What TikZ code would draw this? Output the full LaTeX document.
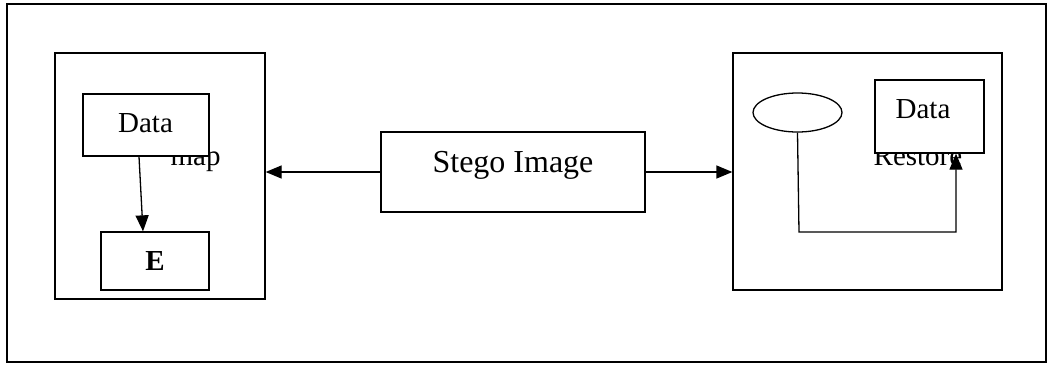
\documentclass[tikz,border=0pt]{standalone}
\usepackage{fontspec}
\setmainfont{Liberation Serif}
\usetikzlibrary{arrows.meta,shapes.geometric}
\begin{document}
\begin{tikzpicture}[x=1pt,y=-1pt,
  line width=1.3pt,
  box/.style={draw=black,fill=white,rectangle,inner sep=0pt},
  lbl/.style={inner sep=0pt,anchor=base,font=\fontsize{29}{34}\selectfont},
  arr/.style={-{Triangle[length=16pt,width=13pt]}}]
\useasboundingbox (0,0) rectangle (1049,365);
% outer frame
\node[box,minimum width=1039pt,minimum height=358pt] (frame) at (526.5,183) {};
% left block
\node[box,minimum width=210pt,minimum height=246pt] (left) at (160,176) {};
\node[lbl,anchor=base west] (map) at (170,165) {map};
\node[box,minimum width=126pt,minimum height=62pt] (dataL) at (146,125) {};
\node[lbl] (dataLt) at (145.5,132) {Data};
\node[box,minimum width=108pt,minimum height=58pt] (E) at (155,261) {};
\node[lbl,font=\fontsize{29}{34}\selectfont\bfseries] (Et) at (155,270) {E};
\draw[arr] ([xshift=-7pt]dataL.south) -- ([xshift=-12pt]E.north);
% centre block
\node[box,minimum width=264pt,minimum height=80pt] (stego) at (513,172) {};
\node[lbl,font=\fontsize{32}{38}\selectfont] (stegot) at (513,172) {Stego Image};
% right block
\node[box,minimum width=269pt,minimum height=237pt] (right) at (867.5,171.5) {};
\node[draw,ellipse,minimum width=89pt,minimum height=39pt,inner sep=0pt] (ell) at (797.5,112.5) {};
\node[lbl,anchor=base west] (restore) at (873,165) {Restore};
\node[box,minimum width=109pt,minimum height=73pt] (dataR) at (929.5,116.5) {};
\node[lbl] (dataRt) at (923,118) {Data};
\coordinate (c1) at (799,232);
\coordinate (c2) at (956,232);
\draw[arr] (ell.south) -- (c1) -- (c2) -- ([xshift=26.5pt]dataR.south);
% connectors from stego
\draw[arr] (stego.west) -- (stego.west -| left.east);
\draw[arr] (stego.east) -- (stego.east -| right.west);
\end{tikzpicture}
\end{document}
